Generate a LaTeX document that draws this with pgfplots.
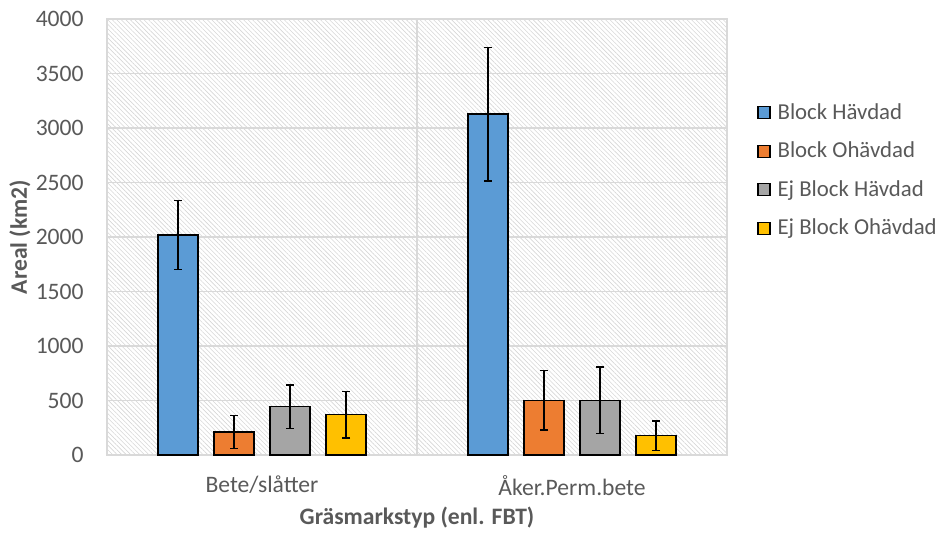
\documentclass[border=0pt]{standalone}
\usepackage{fontspec}
\setmainfont{Carlito}
\usepackage{pgfplots}
\usepackage{pgfplotstable}
\pgfplotsset{compat=1.18}
\usetikzlibrary{patterns.meta}

\definecolor{cBlue}{HTML}{5B9BD5}
\definecolor{cOrange}{HTML}{ED7D31}
\definecolor{cGray}{HTML}{A5A5A5}
\definecolor{cYellow}{HTML}{FFC000}
\definecolor{gridc}{HTML}{D9D9D9}
\definecolor{txt}{HTML}{595959}

% value and error (+/-) for each series
\pgfplotstableread{
x a ae b be c ce d de
0 2018 315 211 152 443 200 370 212
1 3128 612 502 274 502 306 177 135
}\data

\begin{document}
\begin{tikzpicture}
\begin{axis}[
  scale only axis,
  width=310pt, height=218pt,
  ybar=8pt, bar width=20pt,
  xmin=-0.5, xmax=1.5,
  ymin=0, ymax=4000, ytick distance=500,
  xtick={0,1},
  xticklabels={Bete/slåtter, Åker.Perm.bete},
  extra x ticks={0.5}, extra x tick labels={},
  extra x tick style={grid=major},
  major tick length=0pt,
  ymajorgrids,
  grid style={gridc, line width=0.6pt},
  axis line style={gridc, line width=0.6pt},
  axis background/.style={pattern={Lines[angle=-45,distance=1.6pt,line width=0.3pt]}, pattern color=black!16},
  font=\fontsize{11.8}{13}\selectfont,
  tick label style={txt},
  /pgf/number format/assume math mode=true,
  /pgf/number format/1000 sep={},
  yticklabel style={inner sep=0pt, xshift=-11.5pt},
  xticklabel style={inner sep=0pt, yshift=-10pt},
  xlabel={\bfseries Gräsmarkstyp (enl. FBT)},
  ylabel={\bfseries Areal (km2)},
  label style={txt},
  xlabel style={at={(axis description cs:0.5,-0.1445)}, anchor=center},
  ylabel style={at={(axis description cs:-0.1403,0.5)}, anchor=center},
  legend style={at={(axis description cs:1,1)}, anchor=north west,
    xshift=12pt, yshift=-38pt, draw=none, fill=none, text=txt,
    row sep=5.8pt, font=\fontsize{11.4}{13}\selectfont,
    /tikz/every odd column/.append style={column sep=1.5pt}},
  legend cell align=left,
  legend image code/.code={\draw[#1, draw=black, line width=0.6pt] (0pt,-3pt) rectangle (6pt,3pt);},
  every axis plot/.append style={draw=black, line width=0.75pt,
    error bars/y dir=both, error bars/y explicit,
    error bars/error bar style={black, line width=0.75pt},
    error bars/error mark options={rotate=90, mark size=2pt, line width=0.75pt, black}},
]
\addplot[fill=cBlue] table[x=x, y=a, y error=ae] {\data};
\addplot[fill=cOrange] table[x=x, y=b, y error=be] {\data};
\addplot[fill=cGray] table[x=x, y=c, y error=ce] {\data};
\addplot[fill=cYellow] table[x=x, y=d, y error=de] {\data};
\legend{Block Hävdad, Block Ohävdad, Ej Block Hävdad, Ej Block Ohävdad}
\end{axis}
\pgfresetboundingbox
\path (-53.5pt,-38.5pt) rectangle (417.5pt,227.5pt);
\end{tikzpicture}
\end{document}
